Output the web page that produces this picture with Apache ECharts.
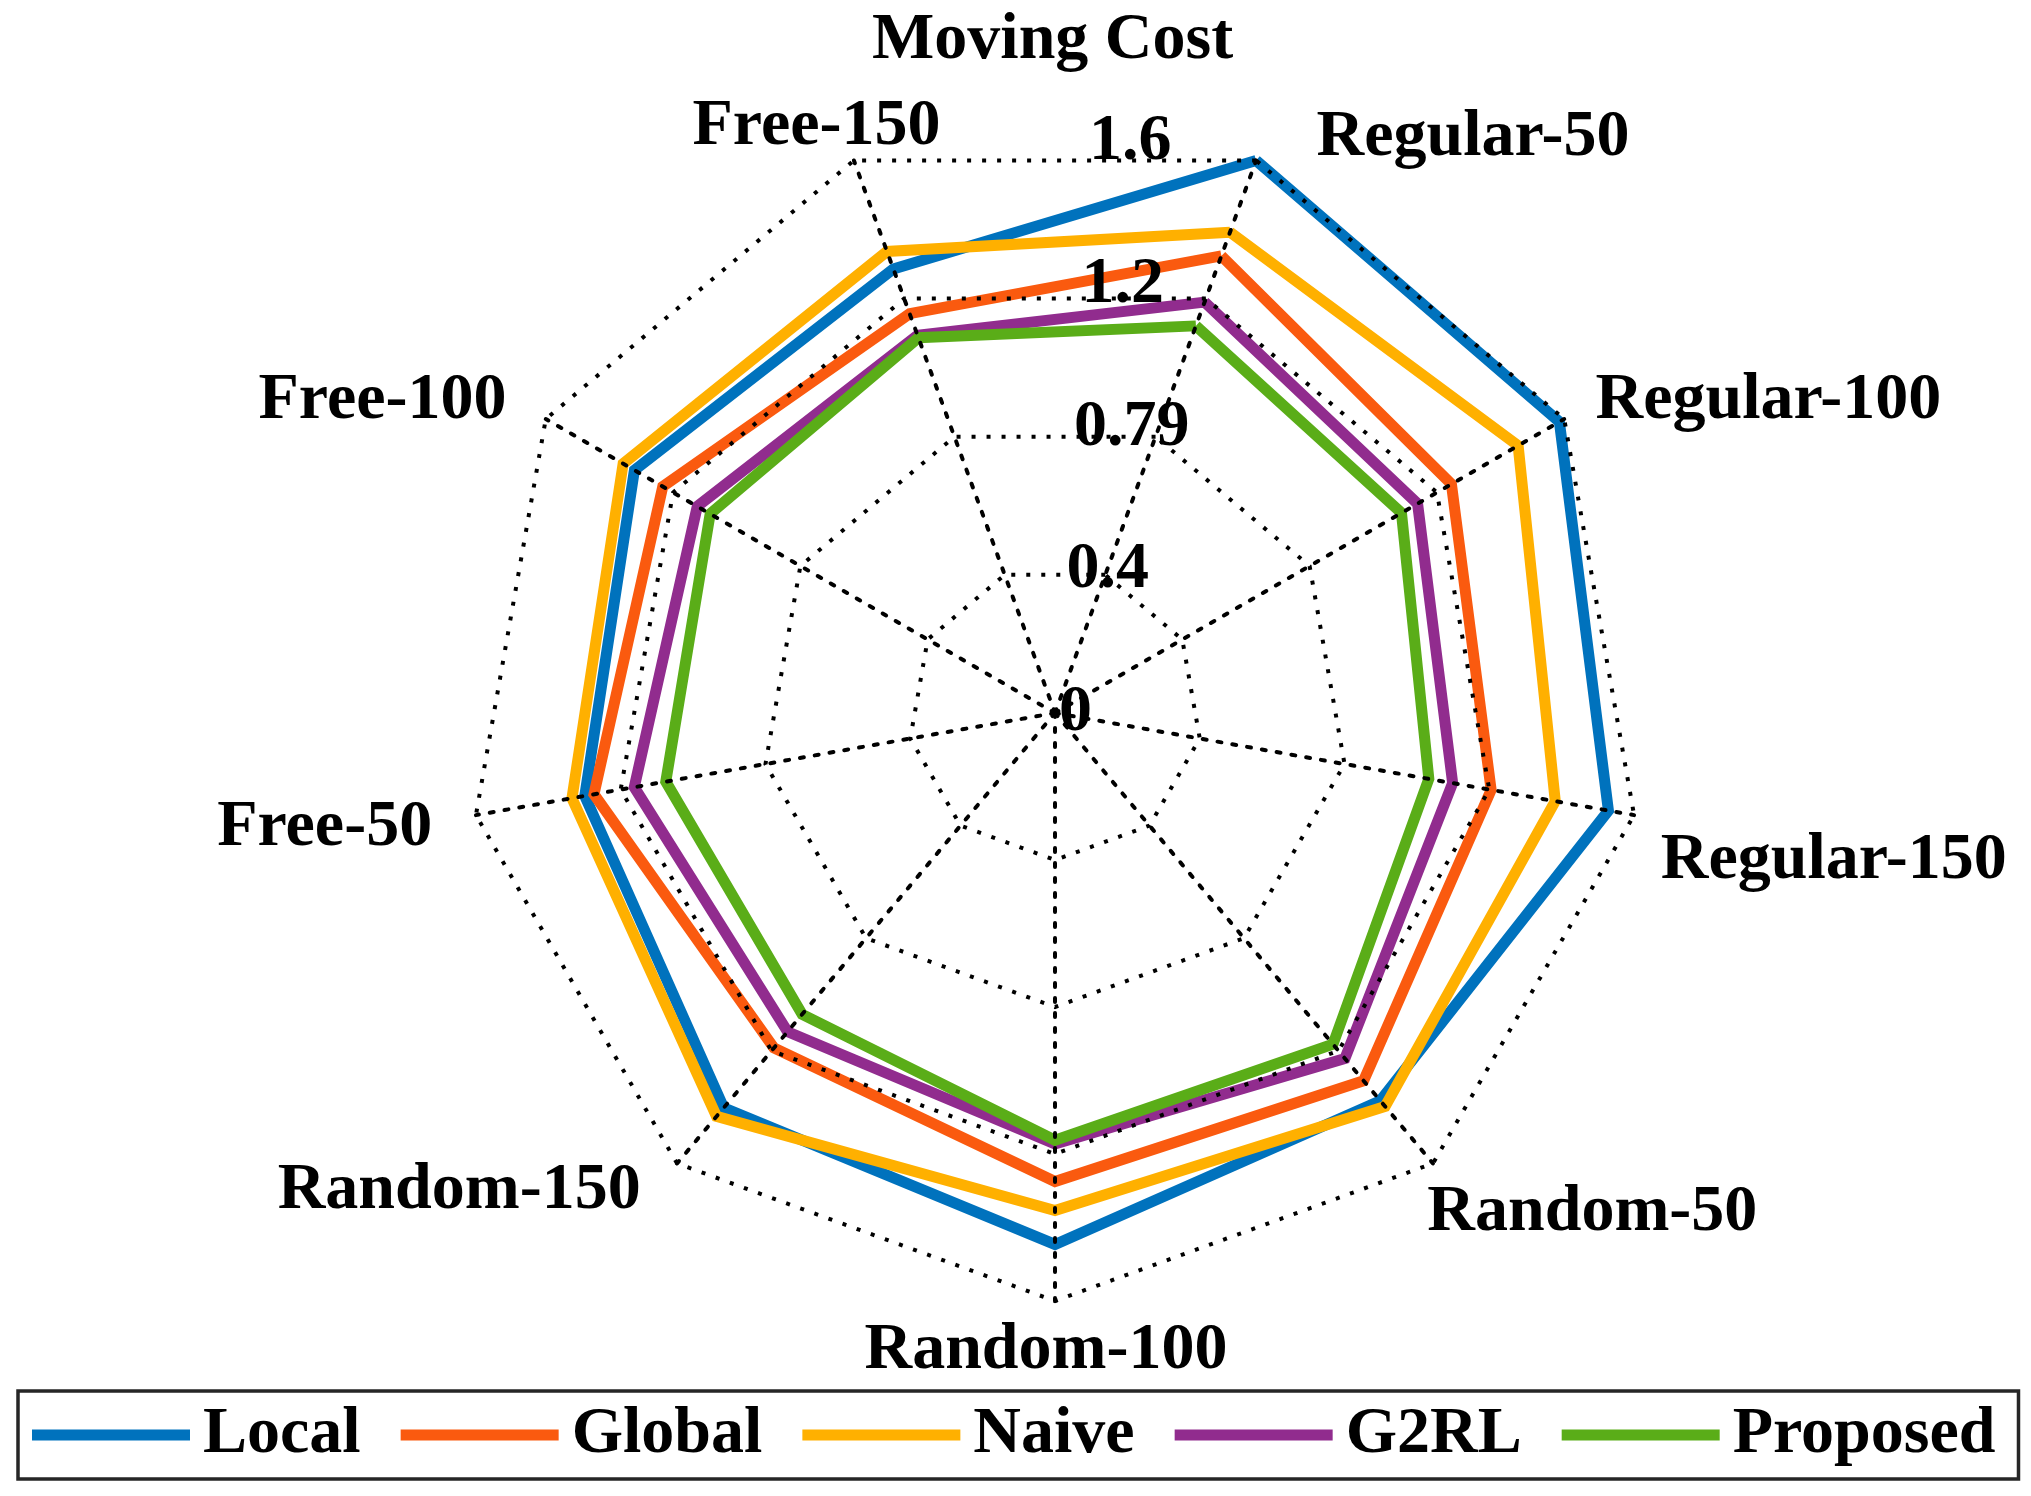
<!DOCTYPE html>
<html><head><meta charset="utf-8">
<script src="https://cdn.jsdelivr.net/npm/echarts@6/dist/echarts.min.js"></script>
<style>html,body{margin:0;padding:0;background:#fff}#c{width:2031px;height:1496px}</style>
</head><body><div id="c"></div>
<script>
// ---- data ----
const categories = ['Regular-50','Regular-100','Regular-150','Random-50','Random-100','Random-150','Free-50','Free-100','Free-150'];
const seriesNames = ['Local','Global','Naive','G2RL','Proposed'];
const localCost    = [1.58, 1.565, 1.51, 1.36, 1.428, 1.385, 1.283, 1.305, 1.27];
const globalCost   = [1.307, 1.23, 1.19, 1.29, 1.259, 1.175, 1.258, 1.217, 1.142];
const naiveCost    = [1.375, 1.437, 1.365, 1.38, 1.337, 1.415, 1.318, 1.34, 1.32];
const g2rlCost     = [1.175, 1.125, 1.085, 1.212, 1.158, 1.118, 1.148, 1.11, 1.08];
const proposedCost = [1.107, 1.075, 1.02, 1.162, 1.148, 1.057, 1.062, 1.07, 1.073];
const tickLabels = ['0','0.4','0.79','1.2','1.6'];
const axisMin = 0, axisMax = 1.58, splitNumber = 4;
const titleText = 'Moving Cost';

// ---- styles ----
const colors = ['#0072BD','#FA5A0F','#FFB000','#912C8E','#5AAD18'];
const fontFamily = '"Liberation Serif","Times New Roman",serif';
const CX = 1055, CY = 713, R = 588, TICK_R = 572;
const nameShift = {
  'Regular-50':[56,-10], 'Regular-100':[20,-12], 'Regular-150':[14,44],
  'Random-50':[-14,40], 'Random-100':[-9,4], 'Random-150':[-28,18],
  'Free-50':[-31,11], 'Free-100':[-28,-12], 'Free-150':[91,-21]
};

// radar indicators run counter-clockwise in ECharts; the figure runs clockwise
const order = [0, 8, 7, 6, 5, 4, 3, 2, 1];
const reorder = arr => order.map(i => arr[i]);
const allValues = [localCost, globalCost, naiveCost, g2rlCost, proposedCost];
const step = (axisMax - axisMin) / splitNumber;

const textBase = {fontSize:66, fontWeight:'bold', fontFamily, color:'#000', lineHeight:66};
const rich = {};
categories.forEach((c, i) => {
  const s = nameShift[c];
  rich['n' + i] = Object.assign({padding:[s[1], -s[0], -s[1], s[0]]}, textBase);
});
const dotted = {color:'#000', width:4, type:[4, 11]};

const chart = echarts.init(document.getElementById('c'), null, {renderer:'canvas'});
chart.setOption({
  animation:false,
  backgroundColor:'#fff',
  title:{text:titleText, left:872, top:8, padding:0, textStyle:textBase},
  legend:{
    data:seriesNames, left:18, top:1391, orient:'horizontal', icon:'rect',
    itemWidth:158, itemHeight:11, itemGap:40, padding:[11,23,11,14],
    borderColor:'#262626', borderWidth:3.5, selectedMode:false,
    textStyle:Object.assign({padding:[0,0,0,8]}, textBase)
  },
  radar:{
    center:[CX, CY], radius:R, startAngle:70, shape:'polygon', splitNumber, z:5,
    indicator: order.map(i => ({name:categories[i], min:axisMin, max:axisMax})),
    nameGap:13,
    axisName:{formatter:(name) => '{n' + categories.indexOf(name) + '|' + name + '}', rich, ...textBase},
    splitLine:{lineStyle:dotted},
    splitArea:{show:false},
    axisLine:{lineStyle:dotted},
    axisTick:{show:false},
    axisLabel:{show:false}
  },
  polar:{center:[CX, CY], radius:TICK_R},
  angleAxis:{show:false, startAngle:87, min:0, max:360},
  radiusAxis:{
    min:axisMin, max:axisMax, interval:step, z:6,
    axisLine:{show:false}, axisTick:{show:false}, splitLine:{show:false},
    axisLabel:Object.assign({formatter:(v) => tickLabels[Math.round((v - axisMin) / step)], align:'left', verticalAlign:'middle', margin:-4}, textBase)
  },
  series:[{
    type:'radar', radarIndex:0, z:2, symbol:'none',
    data: seriesNames.map((n, k) => ({
      name:n, value:reorder(allValues[k]),
      lineStyle:{color:colors[k], width:11, join:'miter'},
      itemStyle:{color:colors[k]}
    }))
  }]
});
</script></body></html>
